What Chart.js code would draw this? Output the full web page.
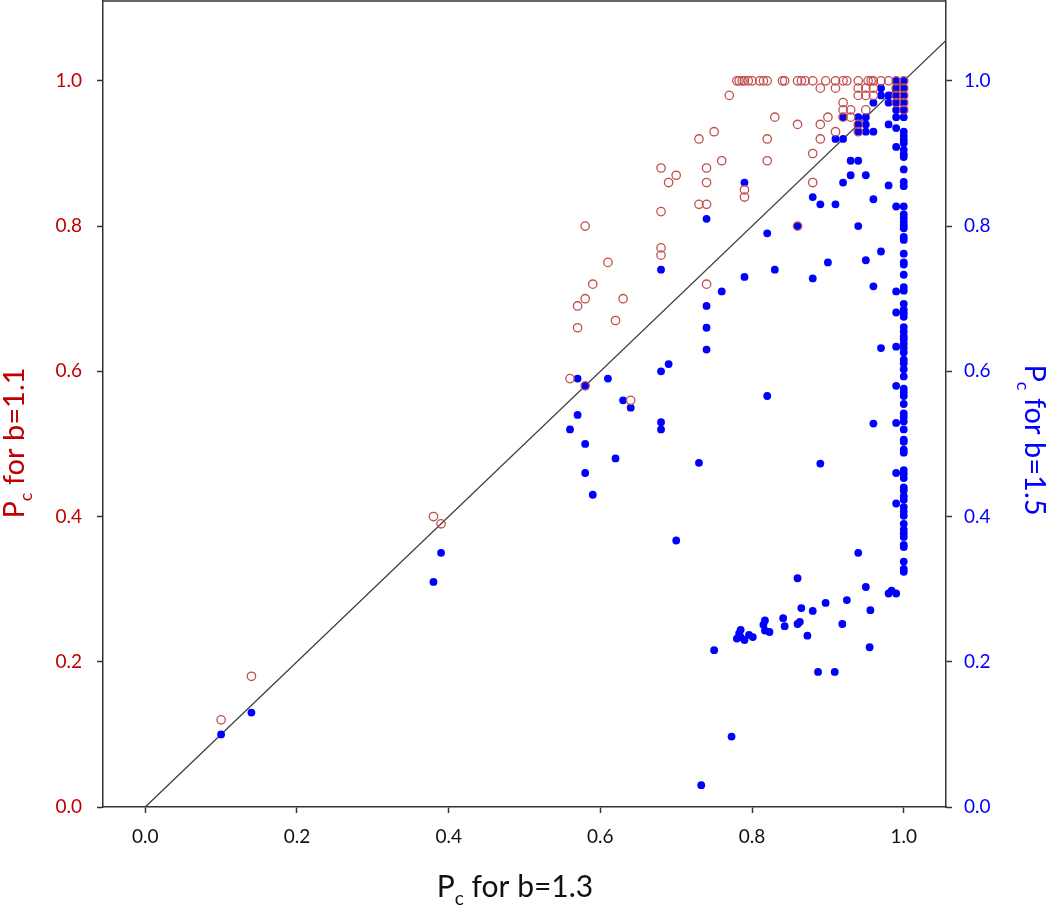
<!DOCTYPE html>
<html>
<head>
<meta charset="utf-8">
<script src="https://cdn.jsdelivr.net/npm/chart.js@4.4.1/dist/chart.umd.min.js"></script>
<style>
  html, body { margin: 0; padding: 0; background: #fff; }
  #wrap { position: relative; width: 1050px; height: 907px; }
</style>
</head>
<body>
<div id="wrap"><canvas id="chart" width="1050" height="907"></canvas></div>
<script>
// Axis setup
const X_TICKS = [0, 0.2, 0.4, 0.6, 0.8, 1.0];
const Y_TICKS = [0, 0.2, 0.4, 0.6, 0.8, 1.0];
const X_RANGE = [-0.0557, 1.0557];
const Y_RANGE = [0, 1.11];
const DIAGONAL = [0, 1.0557];

const TITLE_X = { sub: "c", rest: " for b=1.3" };
const TITLE_LEFT = { sub: "c", rest: " for b=1.1" };
const TITLE_RIGHT = { sub: "c", rest: " for b=1.5" };

// Pc for b=1.1 (left axis, open red circles): [Pc b=1.3, Pc b=1.1]
const b11Points = [
  [0.10, 0.12], [0.14, 0.18], [0.38, 0.40], [0.39, 0.39],
  [0.56, 0.59], [0.58, 0.58], [0.64, 0.56],
  [0.57, 0.66], [0.57, 0.69], [0.58, 0.70], [0.59, 0.72], [0.61, 0.75], [0.62, 0.67], [0.63, 0.70], [0.58, 0.80],
  [0.68, 0.76], [0.68, 0.77], [0.68, 0.82], [0.68, 0.88], [0.69, 0.86], [0.70, 0.87],
  [0.73, 0.83], [0.74, 0.83], [0.74, 0.86], [0.74, 0.88], [0.74, 0.72], [0.76, 0.89], [0.79, 0.84], [0.79, 0.85],
  [0.73, 0.92], [0.75, 0.93], [0.77, 0.98], [0.82, 0.89], [0.82, 0.92], [0.83, 0.95], [0.86, 0.94], [0.86, 0.80],
  [0.88, 0.86], [0.88, 0.90], [0.89, 0.92], [0.89, 0.94], [0.90, 0.95], [0.91, 0.93], [0.89, 0.99], [0.91, 0.99],
  [0.92, 0.97], [0.92, 0.96], [0.93, 0.96], [0.92, 0.95], [0.93, 0.95], [0.94, 0.94], [0.94, 0.93], [0.95, 0.96],
  [0.94, 0.99], [0.95, 0.99], [0.96, 0.99], [0.94, 0.98], [0.95, 0.98], [0.96, 0.98],
  [0.99, 0.99], [1.0, 0.99], [0.99, 0.98], [1.0, 0.98], [0.99, 0.97], [1.0, 0.97], [1.0, 0.96],
];
// b=1.1 points sitting on Pc = 1.0 (x values)
const b11TopRowX = [
  0.78, 0.783, 0.787, 0.79, 0.795, 0.80, 0.81, 0.815, 0.82, 0.84, 0.843, 0.86, 0.865, 0.87,
  0.88, 0.897, 0.91, 0.92, 0.925, 0.94, 0.953, 0.957, 0.96, 0.97, 0.98, 0.99, 1.0,
];

// Pc for b=1.5 (right axis, filled blue): [Pc b=1.3, Pc b=1.5]
const b15Points = [
  [0.10, 0.10], [0.14, 0.13], [0.38, 0.31], [0.39, 0.35],
  [0.56, 0.52], [0.57, 0.54], [0.57, 0.59], [0.58, 0.58], [0.58, 0.50], [0.58, 0.46], [0.59, 0.43], [0.61, 0.59],
  [0.62, 0.48], [0.63, 0.56], [0.64, 0.55], [0.68, 0.53], [0.68, 0.52], [0.68, 0.60], [0.69, 0.61], [0.68, 0.74],
  [0.70, 0.367], [0.73, 0.474], [0.733, 0.03], [0.74, 0.63], [0.74, 0.66], [0.74, 0.69], [0.74, 0.81], [0.76, 0.71],
  [0.79, 0.73], [0.79, 0.86], [0.75, 0.216], [0.773, 0.097],
  [0.82, 0.566], [0.82, 0.79], [0.83, 0.74], [0.86, 0.80], [0.88, 0.728], [0.90, 0.75], [0.89, 0.473], [0.94, 0.80],
  [0.95, 0.753], [0.96, 0.717], [0.97, 0.765], [0.97, 0.632], [0.96, 0.528], [0.94, 0.35], [0.95, 0.303], [0.86, 0.315],
  [0.785, 0.244], [0.783, 0.239], [0.780, 0.232], [0.785, 0.234], [0.790, 0.230], [0.796, 0.237], [0.801, 0.234],
  [0.815, 0.251], [0.817, 0.257], [0.817, 0.243], [0.823, 0.241], [0.841, 0.26], [0.843, 0.249], [0.86, 0.252],
  [0.863, 0.255], [0.865, 0.274], [0.873, 0.236], [0.88, 0.27], [0.897, 0.281], [0.887, 0.186], [0.909, 0.186],
  [0.919, 0.252], [0.925, 0.285], [0.955, 0.22], [0.956, 0.271], [0.98, 0.294], [0.984, 0.298], [0.99, 0.294],
  [0.88, 0.84], [0.89, 0.83], [0.91, 0.83], [0.96, 0.837], [0.99, 0.827], [0.92, 0.86], [0.93, 0.87], [0.95, 0.87],
  [0.98, 0.856], [0.93, 0.89], [0.94, 0.89], [0.91, 0.92], [0.92, 0.92], [0.94, 0.93], [0.95, 0.93], [0.96, 0.93],
  [0.94, 0.94], [0.95, 0.94], [0.98, 0.94], [0.99, 0.935], [0.99, 0.909], [0.92, 0.95], [0.94, 0.95], [0.95, 0.95],
  [0.99, 0.95], [0.96, 0.97], [0.98, 0.97], [0.99, 0.97], [0.97, 0.98], [0.98, 0.98], [0.99, 0.98], [0.97, 0.99],
  [0.99, 0.99], [0.99, 1.0], [0.99, 0.96],
  [0.99, 0.71], [0.99, 0.681], [0.99, 0.634], [0.99, 0.58], [0.99, 0.529], [0.99, 0.46], [0.99, 0.418],
];
// b=1.5 points where Pc for b=1.3 is 1.0 (y values)
const b15AtOneY = [
  1.0, 0.99, 0.98, 0.97, 0.96, 0.95, 0.93, 0.924, 0.919, 0.914, 0.905, 0.899, 0.895, 0.878, 0.861, 0.855,
  0.827, 0.816, 0.811, 0.806, 0.801, 0.797, 0.785, 0.781, 0.762, 0.750, 0.747, 0.733, 0.716, 0.711, 0.693,
  0.685, 0.680, 0.675, 0.661, 0.655, 0.648, 0.644, 0.638, 0.632, 0.626, 0.616, 0.611, 0.603, 0.593, 0.576,
  0.571, 0.566, 0.555, 0.542, 0.537, 0.531, 0.520, 0.506, 0.503, 0.492, 0.488, 0.464, 0.459, 0.453, 0.440,
  0.436, 0.428, 0.423, 0.413, 0.407, 0.401, 0.390, 0.382, 0.377, 0.372, 0.361, 0.358, 0.338, 0.328, 0.324,
];

const COLORS = { red: "#c00000", redMarker: "#c0504d", blue: "#0000ff", axis: "#333333", line: "#3c3c3c" };
const FONT = "Lato, 'Open Sans', sans-serif";

const toXY = ([x, y]) => ({ x, y });
const b11Data = [...b11TopRowX.map((x) => ({ x, y: 1.0 })), ...b11Points.map(toXY)];
const b15Data = [...b15Points.map(toXY), ...b15AtOneY.map((y) => ({ x: 1.0, y }))];

// Draw "P" + subscript + rest, centred on (x, y) baseline, rotated by angle.
const drawAxisTitle = (ctx, x, y, angle, color, size, parts) => {
  const big = `${size}px ${FONT}`;
  const small = `${Math.round(size * 0.62)}px ${FONT}`;
  ctx.save();
  ctx.translate(x, y);
  ctx.rotate(angle);
  ctx.fillStyle = color;
  ctx.textBaseline = "alphabetic";
  ctx.textAlign = "left";
  ctx.font = big;
  const wP = ctx.measureText("P").width;
  const wRest = ctx.measureText(parts.rest).width;
  ctx.font = small;
  const wSub = ctx.measureText(parts.sub).width;
  let cx = -(wP + wSub + wRest) / 2;
  ctx.font = big;
  ctx.fillText("P", cx, 0);
  cx += wP;
  ctx.font = small;
  ctx.fillText(parts.sub, cx, size * 0.27);
  cx += wSub;
  ctx.font = big;
  ctx.fillText(parts.rest, cx, 0);
  ctx.restore();
};

const framePlugin = {
  id: "frame",
  afterDraw(chart) {
    const { ctx, chartArea } = chart;
    ctx.save();
    ctx.strokeStyle = COLORS.axis;
    ctx.lineWidth = 1.5;
    ctx.beginPath();
    ctx.moveTo(chartArea.left, chartArea.top);
    ctx.lineTo(chartArea.right, chartArea.top);
    ctx.stroke();
    ctx.restore();

    drawAxisTitle(ctx, 515, 897, 0, "#111", 30, TITLE_X);
    drawAxisTitle(ctx, 24, 443, -Math.PI / 2, COLORS.red, 29, TITLE_LEFT);
    drawAxisTitle(ctx, 1025, 440, Math.PI / 2, COLORS.blue, 29, TITLE_RIGHT);
  },
};

const axisBase = (ticksList, color, padding) => ({
  type: "linear",
  afterBuildTicks: (scale) => {
    scale.ticks = ticksList.map((value) => ({ value }));
  },
  ticks: {
    color,
    padding,
    autoSkip: false,
    maxRotation: 0,
    font: { family: FONT, size: 19 },
    callback: (v) => Number(v).toFixed(1),
  },
  grid: { drawOnChartArea: false, drawTicks: true, tickLength: 6, tickColor: COLORS.axis, tickWidth: 1.5 },
  border: { display: true, color: COLORS.axis, width: 1.5 },
});

new Chart(document.getElementById("chart").getContext("2d"), {
  type: "scatter",
  data: {
    datasets: [
      {
        label: "b=1.1",
        data: b11Data,
        yAxisID: "y",
        order: 1,
        pointStyle: "circle",
        pointRadius: 4.2,
        borderWidth: 1.3,
        borderColor: COLORS.redMarker,
        backgroundColor: "rgba(255,255,255,0)",
      },
      {
        label: "b=1.5",
        data: b15Data,
        yAxisID: "y2",
        order: 2,
        pointStyle: "circle",
        pointRadius: 3.9,
        borderWidth: 0,
        backgroundColor: COLORS.blue,
        borderColor: COLORS.blue,
      },
      {
        type: "line",
        label: "y = x",
        data: DIAGONAL.map((v) => ({ x: v, y: v })),
        yAxisID: "y",
        order: 3,
        borderColor: COLORS.line,
        borderWidth: 1.3,
        pointRadius: 0,
        fill: false,
      },
    ],
  },
  options: {
    responsive: false,
    animation: false,
    devicePixelRatio: 1,
    layout: { autoPadding: false, padding: { top: 1, left: 0, right: 0, bottom: 0 } },
    plugins: { legend: { display: false }, tooltip: { enabled: false } },
    scales: {
      x: {
        ...axisBase(X_TICKS, "#111", 12),
        position: "bottom",
        min: X_RANGE[0],
        max: X_RANGE[1],
        afterFit: (scale) => {
          scale.height = 100;
          scale.paddingLeft = 0;
          scale.paddingRight = 0;
        },
      },
      y: {
        ...axisBase(Y_TICKS, COLORS.red, 15),
        position: "left",
        min: Y_RANGE[0],
        max: Y_RANGE[1],
        afterFit: (scale) => {
          scale.width = 103;
          scale.paddingTop = 0;
          scale.paddingBottom = 0;
        },
      },
      y2: {
        ...axisBase(Y_TICKS, COLORS.blue, 12),
        position: "right",
        min: Y_RANGE[0],
        max: Y_RANGE[1],
        afterFit: (scale) => {
          scale.width = 104;
          scale.paddingTop = 0;
          scale.paddingBottom = 0;
        },
      },
    },
  },
  plugins: [framePlugin],
});
</script>
</body>
</html>
